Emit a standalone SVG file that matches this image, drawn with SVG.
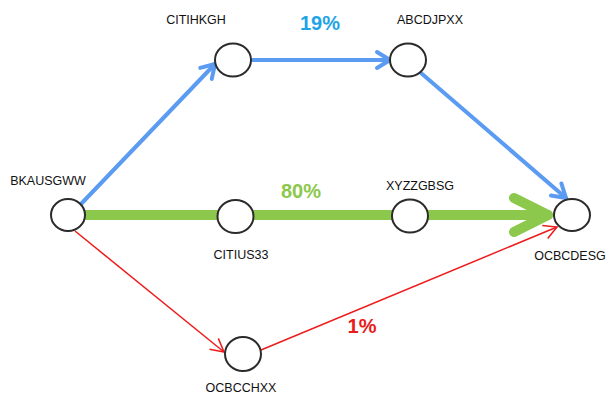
<svg xmlns="http://www.w3.org/2000/svg" width="608" height="397" viewBox="0 0 608 397">
<style>
.node ellipse{fill:#fff;stroke:#2b2b2b;stroke-width:2}
.lbl{font-family:"Liberation Sans",Arial,sans-serif;font-size:12.5px;fill:#111}
.pct{font-family:"Liberation Sans",Arial,sans-serif;font-size:20px;font-weight:bold}
.blue{stroke:#5b9bf2;stroke-width:4;fill:none;stroke-linecap:round}
.green{stroke:#8cc84b;stroke-width:10;fill:none;stroke-linecap:round}
.red{stroke:#ee1b1b;stroke-width:1.5;fill:none}
</style>
<defs>
<marker id="ab" markerUnits="userSpaceOnUse" viewBox="-20 -12 24 24" markerWidth="24" markerHeight="24" refX="0" refY="0" orient="auto">
<path d="M-13,-8 L0,0 L-13,8" fill="none" stroke="#5b9bf2" stroke-width="4" stroke-linecap="round" stroke-linejoin="round"/>
</marker>
<marker id="ag" markerUnits="userSpaceOnUse" viewBox="-45 -25 50 50" markerWidth="50" markerHeight="50" refX="0" refY="0" orient="auto">
<path d="M-34,-17 L0,0 L-34,17" fill="none" stroke="#8cc84b" stroke-width="10" stroke-linecap="round" stroke-linejoin="round"/>
</marker>
<marker id="ar" markerUnits="userSpaceOnUse" viewBox="-20 -12 24 24" markerWidth="24" markerHeight="24" refX="0" refY="0" orient="auto">
<path d="M-13,-7 L0,0 L-13,7" fill="none" stroke="#ee1b1b" stroke-width="1.5"/>
</marker>
</defs>
<g id="connectors">
<path class="green" d="M85,215 L548,215" marker-end="url(#ag)"/>
<path class="blue" d="M81,204 L215,64" marker-end="url(#ab)"/>
<path class="blue" d="M252,60 L390,60" marker-end="url(#ab)"/>
<path class="blue" d="M421,73 L566,198" marker-end="url(#ab)"/>
<path class="red" d="M75,231 L224,352" marker-end="url(#ar)"/>
<path class="red" d="M261,350 L557,227" marker-end="url(#ar)"/>
<text class="pct" x="320" y="30" text-anchor="middle" fill="#1ea4e6">19%</text>
<text class="pct" x="301" y="198" text-anchor="middle" fill="#8cc84b">80%</text>
<text class="pct" x="362" y="333" text-anchor="middle" fill="#e81c1c">1%</text>
</g>
<g id="BKAUSGWW" class="node"><ellipse cx="68" cy="215" rx="17" ry="16"/><text class="lbl" x="48" y="185" text-anchor="middle">BKAUSGWW</text></g>
<g id="CITIHKGH" class="node"><ellipse cx="233" cy="60" rx="18" ry="16.5"/><text class="lbl" x="196" y="24" text-anchor="middle">CITIHKGH</text></g>
<g id="ABCDJPXX" class="node"><ellipse cx="408" cy="60" rx="18" ry="16.5"/><text class="lbl" x="430" y="24" text-anchor="middle">ABCDJPXX</text></g>
<g id="CITIUS33" class="node"><ellipse cx="235.5" cy="216.5" rx="18" ry="16.5"/><text class="lbl" x="241" y="259" text-anchor="middle">CITIUS33</text></g>
<g id="XYZZGBSG" class="node"><ellipse cx="410" cy="216" rx="18" ry="16.5"/><text class="lbl" x="420" y="190" text-anchor="middle">XYZZGBSG</text></g>
<g id="OCBCDESG" class="node"><ellipse cx="572" cy="215" rx="18" ry="16"/><text class="lbl" x="570" y="260" text-anchor="middle">OCBCDESG</text></g>
<g id="OCBCCHXX" class="node"><ellipse cx="243" cy="354" rx="18" ry="17"/><text class="lbl" x="241" y="392" text-anchor="middle">OCBCCHXX</text></g>
</svg>
